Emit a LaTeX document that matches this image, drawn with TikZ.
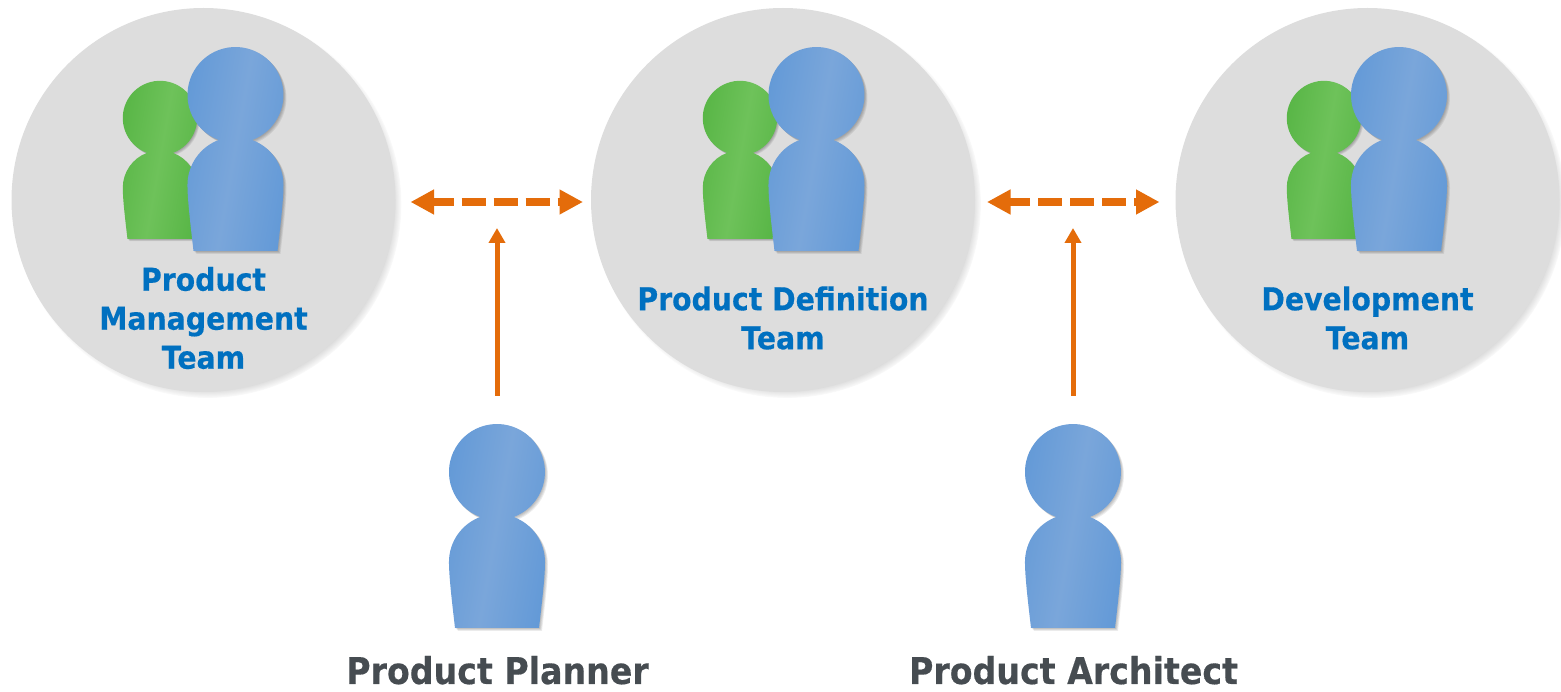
\documentclass[tikz,border=0pt]{standalone}
\usepackage{fontspec}
\setmainfont[FakeStretch=0.9,BoldFeatures={FakeBold=0.4}]{DejaVu Sans}
\usetikzlibrary{arrows.meta,shadows}
\definecolor{teamgray}{HTML}{DDDDDD}
\definecolor{linkorange}{HTML}{E46C0A}
\definecolor{teamblue}{HTML}{0070C0}
\definecolor{rolegray}{HTML}{464C51}
\definecolor{blueedge}{HTML}{6299D7}
\definecolor{bluemid}{HTML}{7AA6DA}
\definecolor{greenedge}{HTML}{57B545}
\definecolor{greenmid}{HTML}{6EC25A}
\tikzset{
	teamcircle/.style={circle, fill=teamgray, minimum size=7.68cm, inner sep=0, outer sep=0,
		circular drop shadow={shadow xshift=0.08cm, shadow yshift=-0.08cm, shadow scale=1.01, opacity=0.9}},
	teamlabel/.style={text=teamblue, align=center, font=\fontsize{17.9}{22.2}\selectfont\bfseries},
	rolelabel/.style={text=rolegray, anchor=base, font=\fontsize{21}{26}\selectfont\bfseries},
	dashlink/.style={draw=linkorange, line width=0.16cm, dash pattern=on 0.48cm off 0.16cm, dash phase=0.06cm,
		{Triangle[length=0.47cm,width=0.47cm]}-{Triangle[length=0.47cm,width=0.47cm]}},
	rolelink/.style={draw=linkorange, line width=0.1cm, -{Triangle[length=0.3cm,width=0.32cm]}}
}
\def\personpath{(0.334,-0.9) arc (-69.6:249.6:0.96) arc (110.4:180:0.96) .. controls (-0.96,-2.1) and (-0.9,-2.6) .. (-0.84,-3.12) -- (0.84,-3.12) .. controls (0.9,-2.6) and (0.96,-2.1) .. (0.96,-1.8) arc (0:69.6:0.96) -- cycle}
\def\person[#1](#2)#3#4{
	\begin{scope}[shift={(#2)}, scale=#1]
		\foreach \k in {0.015,0.03,0.045,0.06}
			\fill[black, opacity=0.07, xshift=\k cm, yshift=-\k cm] \personpath;
		\shade[left color=#3, right color=#3, middle color=#4, shading angle=80] \personpath;
	\end{scope}
}

\begin{document}
\begin{tikzpicture}
	%%%%% TEAMS %%%%%
	\useasboundingbox (0, 0) rectangle (31.22, 13.82);

	\node[teamcircle] (pmteam) at (4.07, 9.82) {};
	\node[teamcircle] (pdteam) at (15.66, 9.82) {};
	\node[teamcircle] (devteam) at (27.35, 9.82) {};

	\person[0.775](3.2, 11.46){greenedge}{greenmid}
	\person[1](4.71, 11.92){blueedge}{bluemid}
	\person[0.775](14.8, 11.46){greenedge}{greenmid}
	\person[1](16.33, 11.92){blueedge}{bluemid}
	\person[0.775](26.48, 11.46){greenedge}{greenmid}
	\person[1](27.98, 11.92){blueedge}{bluemid}

	\node[teamlabel] (pmlabel) at (4.07, 7.46) {Product\\Management\\Team};
	\node[teamlabel] (pdlabel) at (15.66, 7.46) {Product Definition\\Team};
	\node[teamlabel] (devlabel) at (27.35, 7.46) {Development\\Team};

	%%%%% ROLES %%%%%
	\person[1](9.94, 4.38){blueedge}{bluemid}
	\person[1](21.46, 4.38){blueedge}{bluemid}

	\node[rolelabel] (planner) at (9.95, 0.14) {Product Planner};
	\node[rolelabel] (architect) at (21.47, 0.14) {Product Architect};

	%%%%% LINKS %%%%%
	\coordinate (plannerfoot) at (9.94, 5.9);
	\coordinate (plannertip) at (9.94, 9.26);
	\coordinate (architectfoot) at (21.46, 5.9);
	\coordinate (architecttip) at (21.46, 9.26);

	\draw[dashlink, shorten <=0.3cm, shorten >=0.16cm] ([yshift=-0.04cm]pmteam.east) -- ([yshift=-0.04cm]pdteam.west);
	\draw[dashlink, shorten <=0.24cm, shorten >=0.32cm] ([yshift=-0.04cm]pdteam.east) -- ([yshift=-0.04cm]devteam.west);
	\draw[rolelink] (plannerfoot) -- (plannertip);
	\draw[rolelink] (architectfoot) -- (architecttip);
\end{tikzpicture}
\end{document}
